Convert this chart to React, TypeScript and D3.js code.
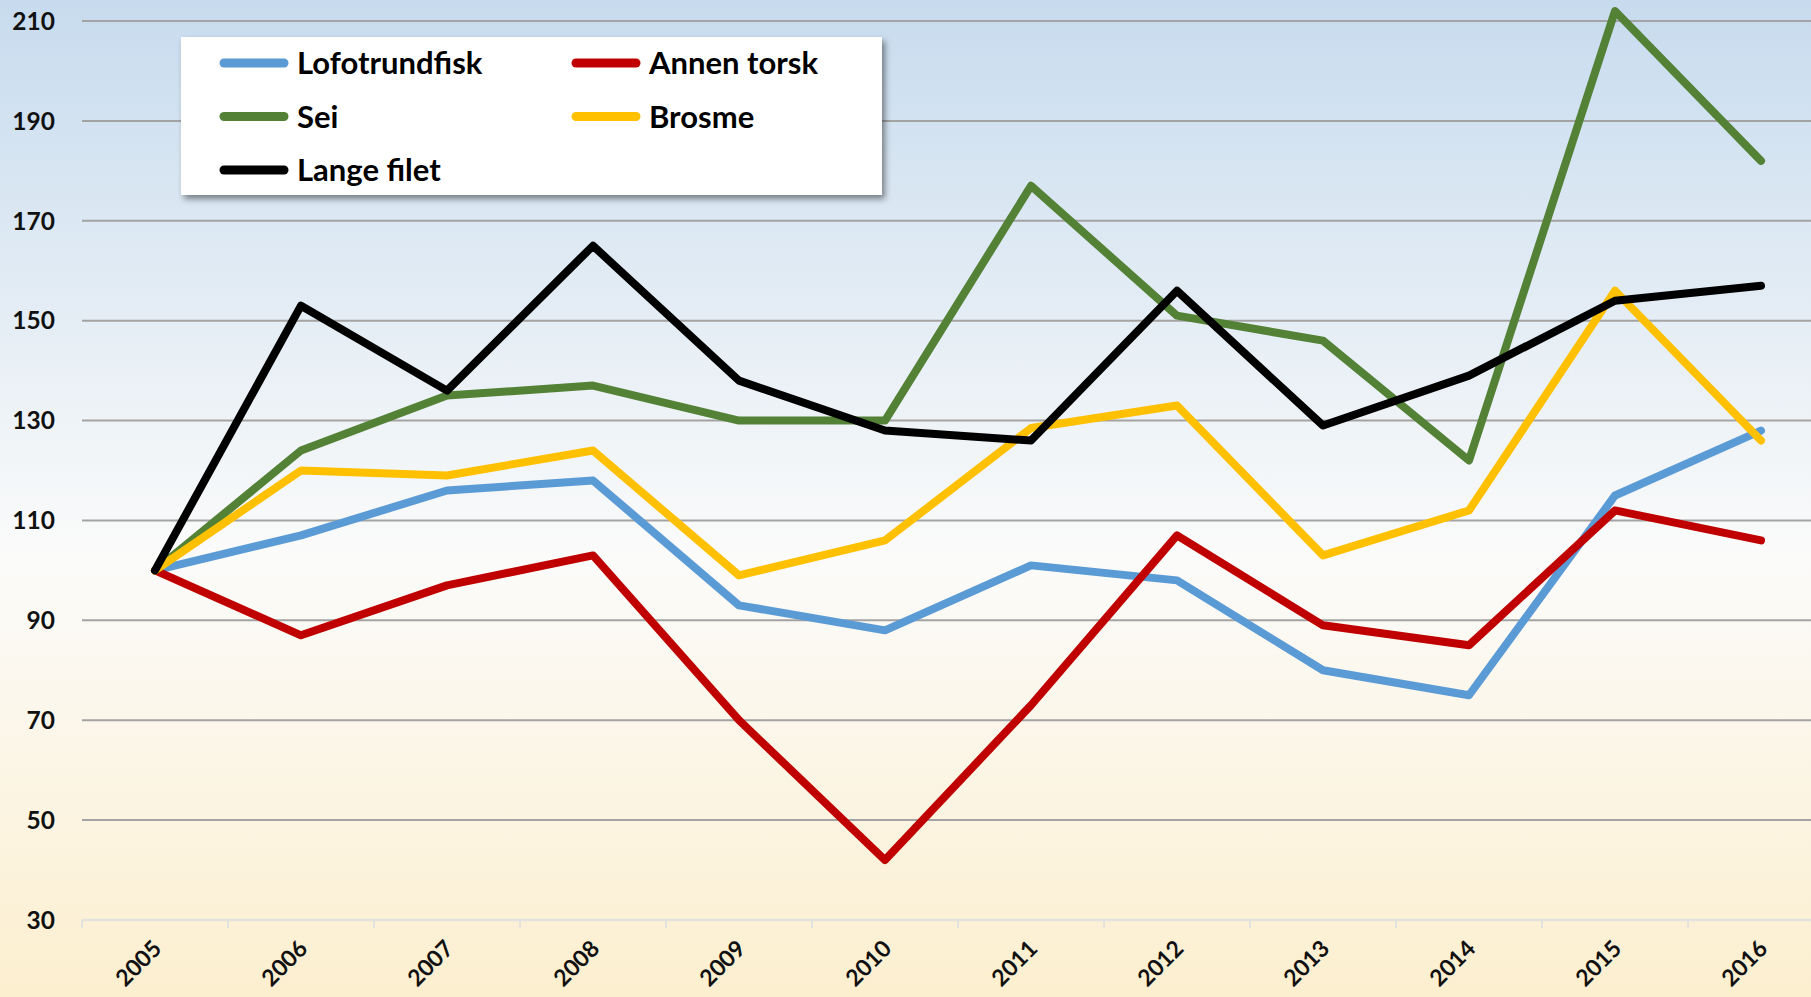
import React from "react";
import * as d3 from "d3";

const years = ["2005","2006","2007","2008","2009","2010","2011","2012","2013","2014","2015","2016"];
const lofotrundfisk = [100,107,116,118,93,88,101,98,80,75,115,128];
const annenTorsk = [100,87,97,103,70,42,73,107,89,85,112,106];
const sei = [100,124,135,137,130,130,177,151,146,122,212,182];
const brosme = [100,120,119,124,99,106,128.5,133,103,112,156,126];
const langeFilet = [100,153,136,165,138,128,126,156,129,139,154,157];
const yTicks = [30,50,70,90,110,130,150,170,190,210];

const seriesList = [
  { name: "Lofotrundfisk", values: lofotrundfisk, color: "#5b9bd5" },
  { name: "Annen torsk", values: annenTorsk, color: "#c00000" },
  { name: "Sei", values: sei, color: "#538135" },
  { name: "Brosme", values: brosme, color: "#ffc000" },
  { name: "Lange filet", values: langeFilet, color: "#000000" },
];
const legendOrder = ["Lofotrundfisk","Annen torsk","Sei","Brosme","Lange filet"];

const W = 1811, H = 997;
const FONT = "Lato, 'Open Sans', sans-serif";

export default function App() {
  const x = d3.scaleBand<string>().domain(years).range([82, 82 + 146 * 12]).paddingInner(0).paddingOuter(0);
  const y = d3.scaleLinear().domain([30, 210]).range([920, 21]);
  const cx = (yr: string) => (x(yr) as number) + x.bandwidth() / 2;
  const line = d3.line<number>().x((_, i) => cx(years[i])).y((v) => y(v));
  const boundaries = d3.range(0, years.length + 1).map((i) => 82 + i * x.bandwidth());

  const legendCols = [220, 572];
  const legendRows = [63, 116.5, 170];

  return (
    <div style={{ position: "absolute", left: 0, top: 0 }}>
      <svg width={W} height={H} style={{ display: "block" }}>
        <defs>
          <linearGradient id="bg" x1="0" y1="0" x2="0" y2="1">
            <stop offset="0" stopColor="#c7dbee" />
            <stop offset="0.56" stopColor="#fbfbfa" />
            <stop offset="1" stopColor="#fcefcf" />
          </linearGradient>
          <filter id="sh" x="-10%" y="-20%" width="130%" height="150%">
            <feDropShadow dx="3" dy="4" stdDeviation="3" floodColor="#000" floodOpacity="0.45" />
          </filter>
        </defs>
        <rect x={0} y={0} width={W} height={H} fill="url(#bg)" />
        {yTicks.map((t) => (
          <g key={t}>
            {t !== 30 && (
              <line x1={82} x2={W} y1={y(t)} y2={y(t)} stroke="#a3a3a3" strokeWidth={2} />
            )}
            <text x={55} y={y(t)} dy="0.36em" textAnchor="end" fontFamily={FONT} fontWeight="bold" fontSize={24.5} fill="#111">
              {t}
            </text>
          </g>
        ))}
        <line x1={82} x2={W} y1={y(30)} y2={y(30)} stroke="#e2e2de" strokeWidth={2.5} />
        {boundaries.map((b, i) => (
          <line key={i} x1={b} x2={b} y1={y(30)} y2={y(30) + 8} stroke="#e2e2de" strokeWidth={2} />
        ))}
        {years.map((yr) => (
          <text key={yr} transform={`translate(${cx(yr) + 8},950) rotate(-45)`} textAnchor="end" fontFamily={FONT} fontWeight="bold" fontSize={23} fill="#111">
            {yr}
          </text>
        ))}
        {seriesList.map((s) => (
          <path key={s.name} d={line(s.values) as string} fill="none" stroke={s.color} strokeWidth={8} strokeLinejoin="round" strokeLinecap="round" />
        ))}
        <rect x={181} y={37} width={701} height={158} fill="#ffffff" filter="url(#sh)" />
        {legendOrder.map((name, i) => {
          const s = seriesList.find((d) => d.name === name)!;
          const lx = legendCols[i % 2];
          const ly = legendRows[Math.floor(i / 2)];
          return (
            <g key={name}>
              <line x1={lx + 4} x2={lx + 64} y1={ly} y2={ly} stroke={s.color} strokeWidth={9} strokeLinecap="round" />
              <text x={lx + 77} y={ly} dy="0.36em" fontFamily={FONT} fontWeight="bold" fontSize={31} fill="#000">
                {name}
              </text>
            </g>
          );
        })}
      </svg>
    </div>
  );
}
